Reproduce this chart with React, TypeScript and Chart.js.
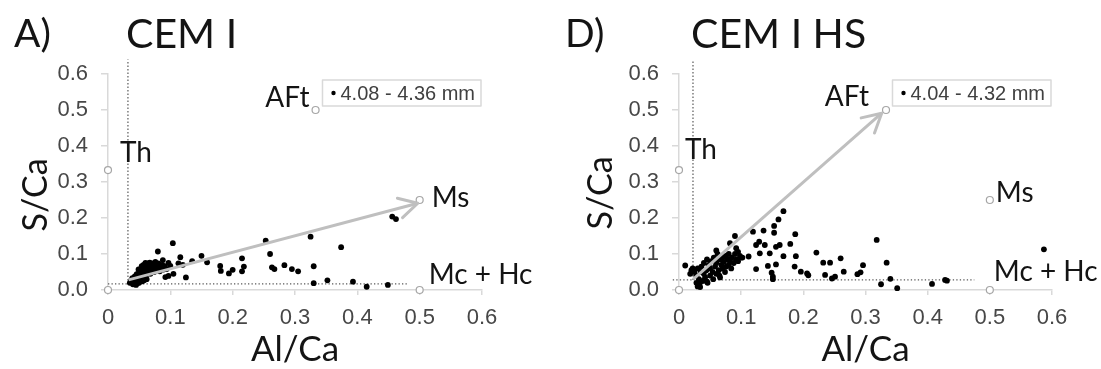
import React, { useEffect, useRef } from 'react';
import { Chart, registerables } from 'chart.js';

Chart.register(...registerables);

// ---------- data ----------
const X_TICK_VALUES = [0, 0.1, 0.2, 0.3, 0.4, 0.5, 0.6];
const X_TICK_LABELS = ['0', '0.1', '0.2', '0.3', '0.4', '0.5', '0.6'];
const Y_TICK_VALUES = [0, 0.1, 0.2, 0.3, 0.4, 0.5, 0.6];
const Y_TICK_LABELS = ['0.0', '0.1', '0.2', '0.3', '0.4', '0.5', '0.6'];

const X_TITLE = 'Al/Ca';
const Y_TITLE = 'S/Ca';

// reference phases (open circles)
const REF_NAMES = ['Th', 'AFt', 'Ms', 'Mc + Hc', ''];
const REF_X = [0, 0.333, 0.5, 0.5, 0];
const REF_Y = [0.333, 0.5, 0.25, 0, 0];

// Panel A: CEM I, 4.08 - 4.36 mm
const A_LETTER = 'A)';
const A_NAME = 'CEM I';
const A_LEGEND = '4.08 - 4.36 mm';
const A_X = [
  0.104, 0.08, 0.15, 0.116, 0.215, 0.218, 0.253, 0.26, 0.374, 0.456, 0.462, 0.325,
  0.18, 0.181, 0.194, 0.2, 0.215, 0.263, 0.267, 0.283, 0.295, 0.305, 0.33, 0.33,
  0.352, 0.393, 0.415, 0.449, 0.125, 0.097, 0.092, 0.105, 0.159, 0.113, 0.097, 0.088,
  0.1, 0.135, 0.12,
  0.035, 0.037, 0.039, 0.04, 0.042, 0.043, 0.045, 0.046, 0.047, 0.048, 0.05, 0.051,
  0.052, 0.053, 0.054, 0.055, 0.056, 0.057, 0.058, 0.059, 0.06, 0.061, 0.062, 0.063,
  0.064, 0.065, 0.066, 0.067, 0.068, 0.069, 0.07, 0.071, 0.072, 0.074, 0.075, 0.076,
  0.078, 0.079, 0.081, 0.083, 0.085, 0.087, 0.089, 0.091, 0.094, 0.045, 0.05, 0.055,
  0.058, 0.062, 0.049, 0.054,
];
const A_Y = [
  0.13, 0.107, 0.095, 0.091, 0.088, 0.065, 0.137, 0.1, 0.119, 0.204, 0.197, 0.148,
  0.067, 0.053, 0.046, 0.056, 0.052, 0.063, 0.058, 0.069, 0.058, 0.052, 0.066, 0.019,
  0.027, 0.023, 0.009, 0.014, 0.035, 0.039, 0.036, 0.045, 0.077, 0.074, 0.075, 0.083,
  0.067, 0.08, 0.07,
  0.02, 0.027, 0.033, 0.016, 0.024, 0.038, 0.03, 0.044, 0.019, 0.036, 0.048, 0.028,
  0.041, 0.055, 0.034, 0.062, 0.046, 0.07, 0.038, 0.052, 0.075, 0.058, 0.044, 0.066,
  0.074, 0.05, 0.06, 0.076, 0.045, 0.068, 0.055, 0.074, 0.062, 0.05, 0.07, 0.078,
  0.058, 0.066, 0.074, 0.052, 0.064, 0.07, 0.057, 0.066, 0.058, 0.014, 0.02, 0.024,
  0.027, 0.03, 0.057, 0.066,
];
const A_ARROW_X = [0.033, 0.497];
const A_ARROW_Y = [0.028, 0.241];
const A_VLINE_X = [0.032, 0.032];
const A_VLINE_Y = [0.017, 0.64];
const A_HLINE_X = [0, 0.48];
const A_HLINE_Y = [0.017, 0.017];

// Panel D: CEM I HS, 4.04 - 4.32 mm
const D_LETTER = 'D)';
const D_NAME = 'CEM I HS';
const D_LEGEND = '4.04 - 4.32 mm';
const D_X = [
  0.168, 0.16, 0.153, 0.153, 0.136, 0.119, 0.09, 0.187, 0.318, 0.129, 0.124, 0.138,
  0.162, 0.156, 0.179, 0.112, 0.13, 0.146, 0.168, 0.188, 0.221, 0.26, 0.232, 0.243,
  0.124, 0.143, 0.156, 0.149, 0.151, 0.186, 0.196, 0.206, 0.208, 0.235, 0.246, 0.251,
  0.265, 0.287, 0.292, 0.296, 0.334, 0.325, 0.34, 0.351, 0.407, 0.428, 0.431, 0.587,
  0.01, 0.082, 0.092, 0.095, 0.151, 0.098, 0.102,
  0.025, 0.028, 0.03, 0.032, 0.033, 0.035, 0.036, 0.038, 0.04, 0.04, 0.042, 0.044,
  0.045, 0.046, 0.048, 0.05, 0.05, 0.052, 0.054, 0.055, 0.056, 0.058, 0.06, 0.06,
  0.062, 0.064, 0.065, 0.066, 0.068, 0.07, 0.07, 0.072, 0.074, 0.075, 0.076, 0.078,
  0.08, 0.08, 0.082, 0.084, 0.085, 0.088, 0.09, 0.092, 0.095, 0.1, 0.03, 0.028,
  0.02, 0.018, 0.022, 0.06, 0.065, 0.045, 0.034,
];
const D_Y = [
  0.219, 0.196, 0.178, 0.159, 0.165, 0.162, 0.15, 0.155, 0.139, 0.134, 0.125, 0.125,
  0.125, 0.12, 0.128, 0.093, 0.102, 0.102, 0.094, 0.094, 0.104, 0.088, 0.076, 0.076,
  0.058, 0.067, 0.071, 0.048, 0.037, 0.065, 0.051, 0.046, 0.041, 0.042, 0.032, 0.037,
  0.051, 0.044, 0.049, 0.069, 0.076, 0.016, 0.031, 0.005, 0.017, 0.028, 0.026, 0.113,
  0.068, 0.13, 0.116, 0.106, 0.03, 0.095, 0.09,
  0.05, 0.04, 0.06, 0.03, 0.015, 0.05, 0.065, 0.025, 0.045, 0.075, 0.035, 0.055,
  0.085, 0.02, 0.07, 0.04, 0.06, 0.08, 0.05, 0.03, 0.09, 0.065, 0.045, 0.075,
  0.1, 0.055, 0.085, 0.035, 0.07, 0.06, 0.09, 0.078, 0.05, 0.095, 0.065, 0.085,
  0.07, 0.1, 0.08, 0.06, 0.09, 0.075, 0.1, 0.085, 0.08, 0.09, 0.01, 0.02,
  0.055, 0.045, 0.06, 0.11, 0.04, 0.023, 0.008,
];
const D_ARROW_X = [0.023, 0.326];
const D_ARROW_Y = [0.03, 0.491];
const D_VLINE_X = [0.0225, 0.0225];
const D_VLINE_Y = [0.028, 0.64];
const D_HLINE_X = [-0.01, 0.475];
const D_HLINE_Y = [0.028, 0.028];

// ---------- styling ----------
const SANS = '"Liberation Sans", Arial, sans-serif';
const HUMAN = 'Lato, "Open Sans", sans-serif';
const TEXT_DARK = '#141414';
const AXIS_GRAY = '#d9d9d9';
const TICK_TEXT = '#474747';

const toPts = (xs: number[], ys: number[]) => xs.map((x, i) => ({ x, y: ys[i] }));

const annotPlugin = {
  id: 'annot',
  afterDatasetsDraw(chart: any, _args: any, opts: any) {
    const ctx = chart.ctx as CanvasRenderingContext2D;
    const ca = chart.chartArea;
    const xs = chart.scales.x;
    const ys = chart.scales.y;
    ctx.save();

    // arrow head
    const meta = chart.getDatasetMeta(opts.arrowIndex);
    const pts = meta.data;
    if (pts.length >= 2) {
      const p1 = pts[pts.length - 2];
      const p2 = pts[pts.length - 1];
      const ang = Math.atan2(p2.y - p1.y, p2.x - p1.x);
      const L = 21;
      const a = 0.5;
      ctx.strokeStyle = '#bfbfbf';
      ctx.lineWidth = 3;
      ctx.lineCap = 'round';
      ctx.lineJoin = 'round';
      ctx.beginPath();
      ctx.moveTo(p2.x - L * Math.cos(ang - a), p2.y - L * Math.sin(ang - a));
      ctx.lineTo(p2.x, p2.y);
      ctx.lineTo(p2.x - L * Math.cos(ang + a), p2.y - L * Math.sin(ang + a));
      ctx.stroke();
    }

    // reference labels
    ctx.fillStyle = TEXT_DARK;
    ctx.font = `28px ${HUMAN}`;
    ctx.textBaseline = 'middle';
    REF_NAMES.forEach((name, i) => {
      if (!name) return;
      const off = opts.labelOffsets[i];
      ctx.textAlign = off.align;
      ctx.fillText(name, xs.getPixelForValue(REF_X[i]) + off.dx, ys.getPixelForValue(REF_Y[i]) + off.dy);
    });

    // y axis title
    ctx.save();
    ctx.translate(opts.yTitleX, opts.yTitleY);
    ctx.rotate(-Math.PI / 2);
    ctx.textAlign = 'center';
    ctx.textBaseline = 'middle';
    ctx.font = `34px ${HUMAN}`;
    ctx.fillText(Y_TITLE, 0, 0);
    ctx.restore();

    // panel titles
    ctx.textAlign = 'left';
    ctx.textBaseline = 'alphabetic';
    ctx.font = `39px ${HUMAN}`;
    ctx.fillText(opts.letter, opts.letterX, 47);
    ctx.font = `41px ${HUMAN}`;
    ctx.fillText(opts.name, opts.nameX, 48);

    // legend box
    ctx.font = `20px ${SANS}`;
    const tw = ctx.measureText(opts.legend).width;
    const bw = tw + 24;
    const bh = 26;
    const bx = ca.right - 1 - bw;
    const by = ca.top + 6;
    ctx.fillStyle = '#ffffff';
    ctx.fillRect(bx, by, bw, bh);
    ctx.strokeStyle = AXIS_GRAY;
    ctx.lineWidth = 1.5;
    ctx.strokeRect(bx, by, bw, bh);
    ctx.fillStyle = '#000';
    ctx.beginPath();
    ctx.arc(bx + 11, by + bh / 2, 2.2, 0, Math.PI * 2);
    ctx.fill();
    ctx.fillStyle = '#404040';
    ctx.textBaseline = 'middle';
    ctx.fillText(opts.legend, bx + 18, by + bh / 2 + 1);

    ctx.restore();
  },
};

interface PanelCfg {
  width: number;
  yAxisWidth: number;
  padRight: number;
  letter: string;
  name: string;
  letterX: number;
  nameX: number;
  legend: string;
  yTitleX: number;
  yTitleY: number;
  labelOffsets: { dx: number; dy: number; align: string }[];
  px: number[];
  py: number[];
  ax: number[];
  ay: number[];
  vx: number[];
  vy: number[];
  hx: number[];
  hy: number[];
}

function Panel({ cfg, left }: { cfg: PanelCfg; left: number }) {
  const ref = useRef<HTMLCanvasElement | null>(null);
  useEffect(() => {
    if (!ref.current) return;
    const dotted = {
      showLine: true,
      borderColor: '#5a5a5a',
      borderWidth: 1.2,
      borderDash: [1.3, 2.2],
      pointRadius: 0,
      clip: false,
    };
    const chart = new Chart(ref.current, {
      type: 'scatter',
      data: {
        datasets: [
          {
            label: 'ref',
            data: toPts(REF_X, REF_Y),
            pointRadius: 3.5,
            pointBackgroundColor: '#ffffff',
            pointBorderColor: '#a6a6a6',
            pointBorderWidth: 1.2,
            order: 0,
            clip: false,
          },
          {
            label: 'arrow',
            data: toPts(cfg.ax, cfg.ay),
            showLine: true,
            borderColor: '#bfbfbf',
            borderWidth: 3,
            pointRadius: 0,
            order: 1,
            clip: false,
          },
          {
            label: cfg.legend,
            data: toPts(cfg.px, cfg.py),
            pointRadius: 2.9,
            pointBackgroundColor: '#000000',
            pointBorderColor: '#000000',
            pointBorderWidth: 0,
            order: 2,
            clip: false,
          },
          { label: 'vline', data: toPts(cfg.vx, cfg.vy), order: 3, ...dotted },
          { label: 'hline', data: toPts(cfg.hx, cfg.hy), order: 3, ...dotted },
        ],
      } as any,
      options: {
        responsive: false,
        animation: false,
        devicePixelRatio: 1,
        layout: { padding: { left: 0, right: cfg.padRight, top: 74, bottom: 0 } },
        plugins: {
          legend: { display: false },
          tooltip: { enabled: false },
          title: { display: false },
          annot: {
            arrowIndex: 1,
            letter: cfg.letter,
            name: cfg.name,
            letterX: cfg.letterX,
            nameX: cfg.nameX,
            legend: cfg.legend,
            yTitleX: cfg.yTitleX,
            yTitleY: cfg.yTitleY,
            labelOffsets: cfg.labelOffsets,
          },
        } as any,
        scales: {
          x: {
            type: 'linear',
            min: 0,
            max: 0.6,
            afterBuildTicks: (s: any) => {
              s.ticks = X_TICK_VALUES.map((v) => ({ value: v }));
            },
            afterFit: (s: any) => {
              s.height = 79;
            },
            ticks: {
              callback: (_v: any, i: number) => X_TICK_LABELS[i],
              font: { family: SANS, size: 22 },
              color: TICK_TEXT,
              padding: 10,
              maxRotation: 0,
              autoSkip: false,
            },
            grid: {
              display: true,
              drawOnChartArea: false,
              drawTicks: true,
              tickLength: 5,
              color: AXIS_GRAY,
              lineWidth: 1.5,
            },
            border: { display: true, color: AXIS_GRAY, width: 1.5 },
            title: {
              display: true,
              text: X_TITLE,
              font: { family: HUMAN, size: 35, lineHeight: 1.1 },
              color: TEXT_DARK,
              padding: { top: 0, bottom: 0 },
            },
          },
          y: {
            type: 'linear',
            min: 0,
            max: 0.6,
            afterBuildTicks: (s: any) => {
              s.ticks = Y_TICK_VALUES.map((v) => ({ value: v }));
            },
            afterFit: (s: any) => {
              s.width = cfg.yAxisWidth;
            },
            ticks: {
              callback: (_v: any, i: number) => Y_TICK_LABELS[i],
              font: { family: SANS, size: 22 },
              color: TICK_TEXT,
              padding: 13,
              autoSkip: false,
            },
            grid: {
              display: true,
              drawOnChartArea: false,
              drawTicks: true,
              tickLength: 7,
              color: AXIS_GRAY,
              lineWidth: 1.5,
            },
            border: { display: true, color: AXIS_GRAY, width: 1.5 },
            title: { display: false },
          },
        },
      } as any,
      plugins: [annotPlugin as any],
    });
    return () => chart.destroy();
  }, [cfg]);
  return (
    <canvas
      ref={ref}
      width={cfg.width}
      height={369}
      style={{ position: 'absolute', left, top: 0, width: cfg.width, height: 369 }}
    />
  );
}

const PANEL_A: PanelCfg = {
  width: 550,
  yAxisWidth: 108,
  padRight: 68,
  letter: A_LETTER,
  name: A_NAME,
  letterX: 14,
  nameX: 126,
  legend: A_LEGEND,
  yTitleX: 36,
  yTitleY: 195,
  labelOffsets: [
    { dx: 12, dy: -17, align: 'left' },
    { dx: -6, dy: -12, align: 'right' },
    { dx: 12, dy: -2, align: 'left' },
    { dx: 9, dy: -15, align: 'left' },
    { dx: 0, dy: 0, align: 'left' },
  ],
  px: A_X,
  py: A_Y,
  ax: A_ARROW_X,
  ay: A_ARROW_Y,
  vx: A_VLINE_X,
  vy: A_VLINE_Y,
  hx: A_HLINE_X,
  hy: A_HLINE_Y,
};

const PANEL_D: PanelCfg = {
  width: 551,
  yAxisWidth: 129,
  padRight: 49,
  letter: D_LETTER,
  name: D_NAME,
  letterX: 15,
  nameX: 141,
  legend: D_LEGEND,
  yTitleX: 51,
  yTitleY: 193,
  labelOffsets: [
    { dx: 6, dy: -20, align: 'left' },
    { dx: -17, dy: -13, align: 'right' },
    { dx: 6, dy: -7, align: 'left' },
    { dx: 4, dy: -18, align: 'left' },
    { dx: 0, dy: 0, align: 'left' },
  ],
  px: D_X,
  py: D_Y,
  ax: D_ARROW_X,
  ay: D_ARROW_Y,
  vx: D_VLINE_X,
  vy: D_VLINE_Y,
  hx: D_HLINE_X,
  hy: D_HLINE_Y,
};

export default function App() {
  return (
    <div style={{ position: 'absolute', left: 0, top: 0, width: 1101, height: 369, background: '#ffffff' }}>
      <Panel cfg={PANEL_A} left={0} />
      <Panel cfg={PANEL_D} left={550} />
    </div>
  );
}
